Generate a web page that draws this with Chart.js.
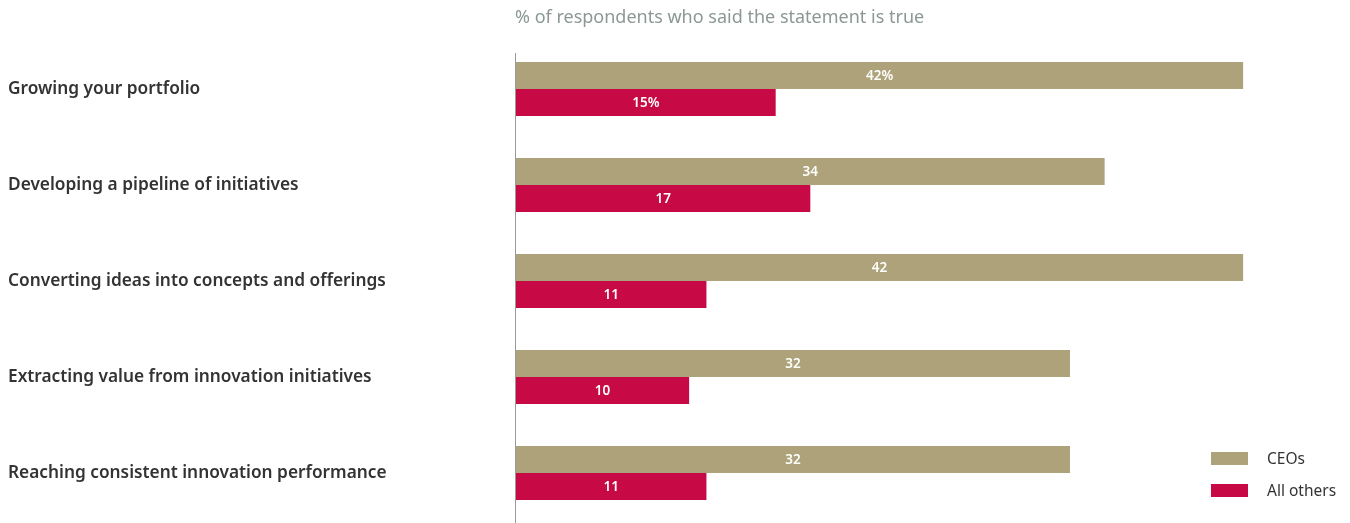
<!DOCTYPE html>
<html lang="en">
  <head>
    <meta charset="UTF-8" />
    <title>Innovation statements</title>
    <script src="https://cdn.jsdelivr.net/npm/chart.js"></script>
    <style>
      html,
      body {
        margin: 0;
        padding: 0;
        background: #fff;
      }
      .wrap {
        position: relative;
        width: 1350px;
        height: 523px;
      }
      canvas {
        display: block;
      }
      .title {
        position: absolute;
        left: 515px;
        top: 4px;
        font-family: "Noto Sans", sans-serif;
        font-size: 18px;
        color: #8c9993;
      }
      .legend {
        position: absolute;
        left: 1211px;
        top: 442px;
        font-family: "Noto Sans", sans-serif;
        font-size: 15.5px;
        color: #333;
      }
      .legend div {
        display: flex;
        align-items: center;
        height: 32px;
      }
      .legend span.box {
        display: inline-block;
        width: 37px;
        height: 13px;
        margin-right: 19px;
      }
    </style>
  </head>
  <body>
    <div class="wrap">
      <canvas id="chart" width="1350" height="523"></canvas>
      <div class="title">% of respondents who said the statement is true</div>
      <div class="legend" id="legend"></div>
    </div>

    <script>
      const categories = [
        "Growing your portfolio",
        "Developing a pipeline of initiatives",
        "Converting ideas into concepts and offerings",
        "Extracting value from innovation initiatives",
        "Reaching consistent innovation performance",
      ];
      const ceos = [42, 34, 42, 32, 32];
      const allOthers = [15, 17, 11, 10, 11];
      const seriesNames = ["CEOs", "All others"];
      const colors = ["#ada27a", "#c70a45"];

      // legend
      const legend = document.getElementById("legend");
      seriesNames.forEach((name, i) => {
        const row = document.createElement("div");
        row.innerHTML =
          '<span class="box" style="background:' + colors[i] + '"></span>' + name;
        legend.appendChild(row);
      });

      // white value labels centred in each bar
      const valueLabels = {
        id: "valueLabels",
        afterDatasetsDraw(chart) {
          const ctx = chart.ctx;
          ctx.save();
          ctx.fillStyle = "#fff";
          ctx.font = "600 13.5px 'Noto Sans', sans-serif";
          ctx.textAlign = "center";
          ctx.textBaseline = "middle";
          chart.data.datasets.forEach((ds, di) => {
            chart.getDatasetMeta(di).data.forEach((bar, i) => {
              const txt = i === 0 ? ds.data[i] + "%" : String(ds.data[i]);
              ctx.fillText(txt, (bar.base + bar.x) / 2, bar.y + 1);
            });
          });
          ctx.restore();
        },
      };

      // vertical axis line
      const axisLine = {
        id: "axisLine",
        afterDraw(chart) {
          const ctx = chart.ctx;
          const a = chart.chartArea;
          ctx.save();
          ctx.strokeStyle = "#9a9a9a";
          ctx.lineWidth = 1;
          ctx.beginPath();
          ctx.moveTo(a.left - 0.5, a.top + 12);
          ctx.lineTo(a.left - 0.5, chart.height);
          ctx.stroke();
          ctx.restore();
        },
      };

      new Chart(document.getElementById("chart"), {
        type: "bar",
        data: {
          labels: categories,
          datasets: [
            { label: seriesNames[0], data: ceos, backgroundColor: colors[0] },
            { label: seriesNames[1], data: allOthers, backgroundColor: colors[1] },
          ],
        },
        options: {
          indexAxis: "y",
          responsive: false,
          animation: false,
          categoryPercentage: 0.5625,
          barPercentage: 1,
          layout: { padding: { left: 8, top: 41, bottom: 2, right: 3 } },
          scales: {
            x: { display: false, min: 0, max: 48 },
            y: {
              grid: { display: false },
              border: { display: false },
              afterFit(scale) {
                scale.width = 508;
                scale.paddingTop = 0;
                scale.paddingBottom = 0;
              },
              ticks: {
                crossAlign: "far",
                color: "#333",
                font: { family: "'Noto Sans', sans-serif", size: 17.3, weight: "600" },
              },
            },
          },
          plugins: {
            legend: { display: false },
            tooltip: { enabled: false },
          },
        },
        plugins: [valueLabels, axisLine],
      });
    </script>
  </body>
</html>
